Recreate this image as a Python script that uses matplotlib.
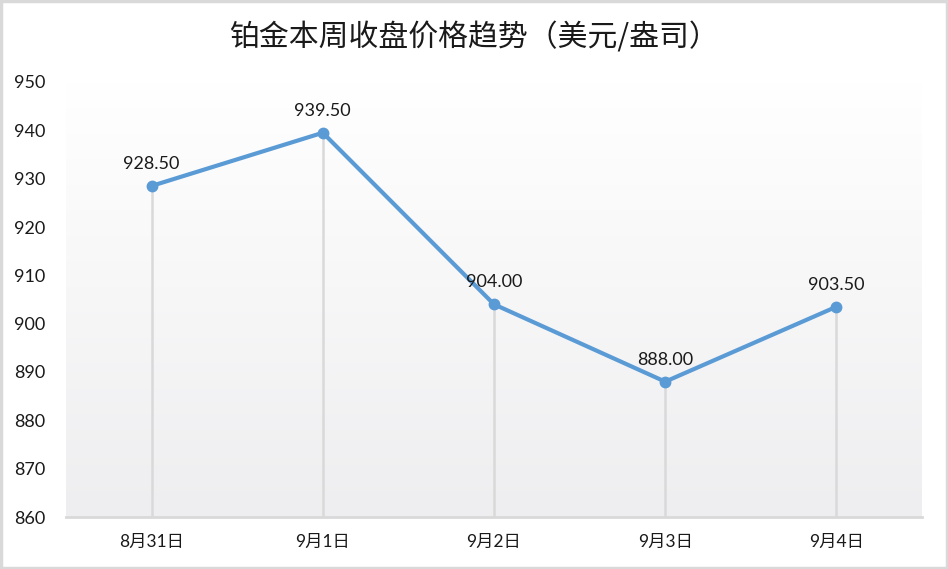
import numpy as np
import matplotlib
matplotlib.use("Agg")
import matplotlib.pyplot as plt
from matplotlib.patches import Rectangle

categories = ["8月31日", "9月1日", "9月2日", "9月3日", "9月4日"]
prices = [928.50, 939.50, 904.00, 888.00, 903.50]
yticks = [860, 870, 880, 890, 900, 910, 920, 930, 940, 950]
title = "铂金本周收盘价格趋势（美元/盎司）"

fam = ['Lato', 'Noto Sans CJK SC', 'DejaVu Sans']
plt.rcParams['font.family'] = fam

fig = plt.figure(figsize=(9.48, 5.69), dpi=100)
fig.patch.set_facecolor('white')
fig.patches.append(Rectangle((0.0015, 0.0025), 0.997, 0.995, transform=fig.transFigure,
                             fill=False, edgecolor='#d9d9d9', linewidth=2.5))

ax = fig.add_axes([66/948, 1-517/569, (922-66)/948, (517-82)/569])
x = np.arange(len(categories))

# gradient background (white at top -> light grey at bottom)
grad = np.linspace(0, 1, 256).reshape(-1, 1)
top = np.array([1.0, 1.0, 1.0])
bot = np.array([0xee, 0xee, 0xf0]) / 255
img = (top + (bot - top) * grad).reshape(256, 1, 3)
ax.imshow(img, extent=(-0.5, len(categories)-0.5, 860, 950), aspect='auto', zorder=0,
          origin='upper')
ax.set_xlim(-0.5, len(categories)-0.5)
ax.set_ylim(860, 950)

for xi, yi in zip(x, prices):
    ax.plot([xi, xi], [860, yi], color='#d9d9d9', linewidth=1.8, zorder=1)

ax.plot(x, prices, color='#5b9bd5', linewidth=3, marker='o', markersize=7.5, zorder=3,
        solid_capstyle='round')

for xi, yi in zip(x, prices):
    ax.annotate(f"{yi:.2f}", (xi, yi), xytext=(0, 10), textcoords='offset points',
                ha='center', va='bottom', fontsize=13, color='#1a1a1a', zorder=4)

for s in ['top', 'right', 'left']:
    ax.spines[s].set_visible(False)
ax.spines['bottom'].set_color('#d9d9d9')
ax.spines['bottom'].set_linewidth(2)

ax.set_xticks(x)
ax.set_xticklabels(categories, fontsize=12.5, color='#1a1a1a')
ax.set_yticks(yticks)
ax.set_yticklabels([str(v) for v in yticks], fontsize=13, color='#1a1a1a')
ax.tick_params(axis='both', length=0)
ax.tick_params(axis='y', pad=15)
ax.tick_params(axis='x', pad=12)

fig.text(0.5, 1-38/569, title, ha='center', va='center', fontsize=21.5, color='#1a1a1a',
         family=['Noto Sans CJK SC', 'DejaVu Sans'], fontweight='light')

fig.savefig('out.png', dpi=100)
